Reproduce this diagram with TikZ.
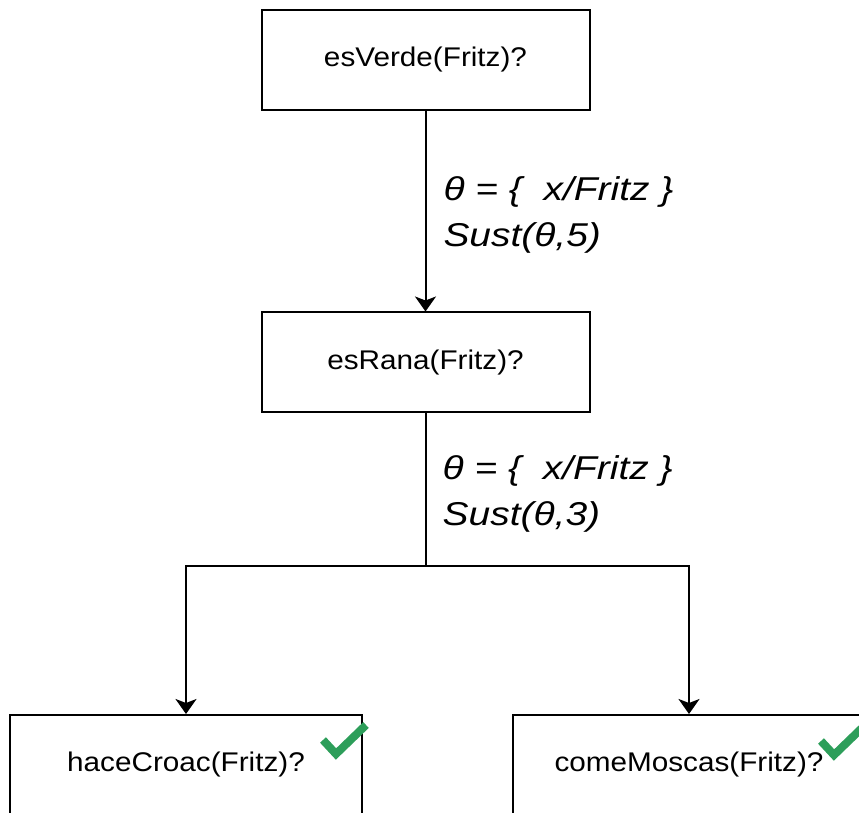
\documentclass[tikz,border=0pt]{standalone}
\usepackage{fontspec}
\setmainfont{Liberation Sans}[FakeStretch=1.1]
\newfontfamily\sustfont{Liberation Sans}[FakeStretch=1.18]
\usetikzlibrary{arrows.meta}
\definecolor{tickgreen}{RGB}{45,158,90}

\begin{document}
\begin{tikzpicture}[
x=1pt, y=1pt,
grow=down,
box/.style ={draw, line width=2pt, minimum width=328pt, minimum height=100pt, inner sep=0pt, font=\fontsize{27}{32}\selectfont},
leaf/.style ={box, minimum width=352pt, xshift=12pt},
level 1/.style ={level distance=302.5pt, edge from parent path={(\tikzparentnode.south) -- (\tikzchildnode.north)}},
level 2/.style ={level distance=402.5pt, sibling distance=503pt, edge from parent path={(\tikzparentnode.south) -- ++(0,-152) -| (\tikzchildnode.north)}},
edge from parent/.style={draw, line width=2pt, -{Stealth[length=15pt,width=21pt,inset=4pt]}},
sust/.style={font=\sustfont\itshape\fontsize{33}{46}\selectfont, align=left, anchor=west, inner sep=0pt, xshift=17pt},
tick/.pic={\draw[tickgreen, line width=8pt, miter limit=10] (0,0) -- (13,-14) -- (43,15);}
]
\useasboundingbox (0,0) rectangle (859,812);

\node[box] (root) at (425.5,752) {esVerde(Fritz)?}
	child {node[box] {esRana(Fritz)?}
		child {node[leaf] {haceCroac(Fritz)?}}
		child {node[leaf] {comeMoscas(Fritz)?}}
		edge from parent node[sust, yshift=-4pt] (sust1) {θ = \{\ \ x/Fritz \}\\Sust(θ,5)}
	};

\node[sust] (sust2) at ([yshift=-80pt]root-1.south) {θ = \{\ \ x/Fritz \}\\Sust(θ,3)};

% the two answers that hold
\pic at ([shift={(314,-26)}]root-1-1.north west) {tick};
\pic at ([shift={(309,-27)}]root-1-2.north west) {tick};
\end{tikzpicture}
\end{document}
